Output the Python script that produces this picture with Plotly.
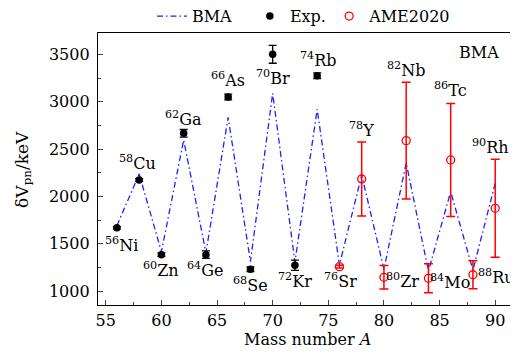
import plotly.graph_objects as go

# ---- data ----
bma_A = [56, 58, 60, 62, 64, 66, 68, 70, 72, 74, 76, 78, 80, 82, 84, 86, 88, 90]
bma_val = [1690, 2237, 1415, 2596, 1405, 2836, 1310, 3090, 1305, 2921, 1275, 2226, 1230, 2353, 1210, 2050, 1220, 2138]

exp_A = [56, 58, 60, 62, 64, 66, 68, 70, 72, 74]
exp_val = [1669, 2173, 1384, 2667, 1384, 3051, 1229, 3502, 1272, 3276]
exp_err = [12, 15, 18, 40, 40, 30, 25, 95, 55, 30]

ame_A = [76, 78, 80, 82, 84, 86, 88, 90]
ame_val = [1257, 2184, 1145, 2589, 1134, 2385, 1172, 1874]
ame_err = [15, 390, 125, 617, 153, 598, 148, 518]

nuclide_mass = [56, 58, 60, 62, 64, 66, 68, 70, 72, 74, 76, 78, 80, 82, 84, 86, 88, 90]
nuclide_sym = ["Ni", "Cu", "Zn", "Ga", "Ge", "As", "Se", "Br", "Kr", "Rb",
               "Sr", "Y", "Zr", "Nb", "Mo", "Tc", "Ru", "Rh"]
# label offsets in pixels (dx, dy up)
label_offsets = [(5, -17), (-2, 18), (0, -15), (0, 15), (0, -15), (0, 17), (0, -15), (0, -23),
                 (0, -15), (1, 16), (1, -14), (0, 49), (19, -3), (0, 71), (22, -3), (0, 70),
                 (24, -2), (-5, 62)]

xticks = [55, 60, 65, 70, 75, 80, 85, 90]
yticks = [1000, 1500, 2000, 2500, 3000, 3500]

FONT = "DejaVu Serif"

fig = go.Figure()
fig.add_trace(go.Scatter(
    x=bma_A, y=bma_val, mode="lines", name="BMA", legend="legend",
    line=dict(color="#1f1fff", width=1.3, dash="6px,3px,1.5px,3px"),
))
fig.add_trace(go.Scatter(
    x=exp_A, y=exp_val, mode="markers", name="Exp.", legend="legend2",
    marker=dict(color="black", size=7.5, symbol="circle"),
    error_y=dict(type="data", array=exp_err, color="black", thickness=1.3, width=4),
))
fig.add_trace(go.Scatter(
    x=ame_A, y=ame_val, mode="markers", name="AME2020", legend="legend3",
    marker=dict(color="#ff0000", size=8, symbol="circle-open",
                line=dict(color="#ff0000", width=1.3)),
    error_y=dict(type="data", array=ame_err, color="#ff0000", thickness=1.5, width=4.5),
))

# value lookup for label anchoring
val_lookup = dict(zip(exp_A, exp_val))
val_lookup.update(dict(zip(ame_A, ame_val)))

annotations = []
for m, s, (dx, dy) in zip(nuclide_mass, nuclide_sym, label_offsets):
    annotations.append(dict(
        x=m, y=val_lookup[m], xref="x", yref="y",
        text=f"<sup>{m}</sup>{s}", showarrow=False,
        xshift=dx, yshift=dy, font=dict(family=FONT, size=16, color="black"),
    ))
annotations.append(dict(
    x=0.97, y=0.93, xref="paper", yref="paper", text="BMA", showarrow=False,
    xanchor="right", yanchor="middle", font=dict(family=FONT, size=16, color="black"),
))
# axis titles
annotations.append(dict(
    x=0.504, y=-0.125, xref="paper", yref="paper", text="Mass number <i>A</i>",
    showarrow=False, xanchor="center", yanchor="middle",
    font=dict(family=FONT, size=16, color="black"),
))
annotations.append(dict(
    x=-0.181, y=0.5, xref="paper", yref="paper", text="δV<sub>pn</sub>/keV",
    showarrow=False, xanchor="center", yanchor="middle", textangle=-90,
    font=dict(family=FONT, size=17, color="black"),
))

leg_common = dict(orientation="h", xanchor="left", y=1.062, yanchor="middle",
                  bgcolor="rgba(0,0,0,0)", font=dict(family=FONT, size=16))

fig.update_layout(
    template="none",
    width=510, height=354,
    margin=dict(l=90, r=5, t=25, b=57, autoexpand=False),
    paper_bgcolor="white", plot_bgcolor="white",
    font=dict(family=FONT, size=16, color="black"),
    showlegend=True,
    legend=dict(x=0.130, **leg_common),
    legend2=dict(x=0.366, **leg_common),
    legend3=dict(x=0.557, **leg_common),
    annotations=annotations,
)
fig.update_xaxes(
    range=[54.3, 91.6], tickvals=xticks, ticks="inside", ticklen=5, tickwidth=1.2,
    showline=True, linecolor="black", linewidth=1.3, mirror=True, showgrid=False, zeroline=False,
    minor=dict(dtick=2.5, ticks="inside", ticklen=3, tickwidth=1, tick0=55),
    tickfont=dict(family=FONT, size=16), ticklabelstandoff=1, automargin=False,
)
fig.update_yaxes(
    range=[852, 3727], tickvals=yticks, ticks="inside", ticklen=5, tickwidth=1.2,
    showline=True, linecolor="black", linewidth=1.3, mirror=True, showgrid=False, zeroline=False,
    minor=dict(dtick=250, ticks="inside", ticklen=3, tickwidth=1, tick0=1000),
    tickfont=dict(family=FONT, size=16), ticklabelstandoff=4, automargin=False,
)

fig.write_html("out.html")
